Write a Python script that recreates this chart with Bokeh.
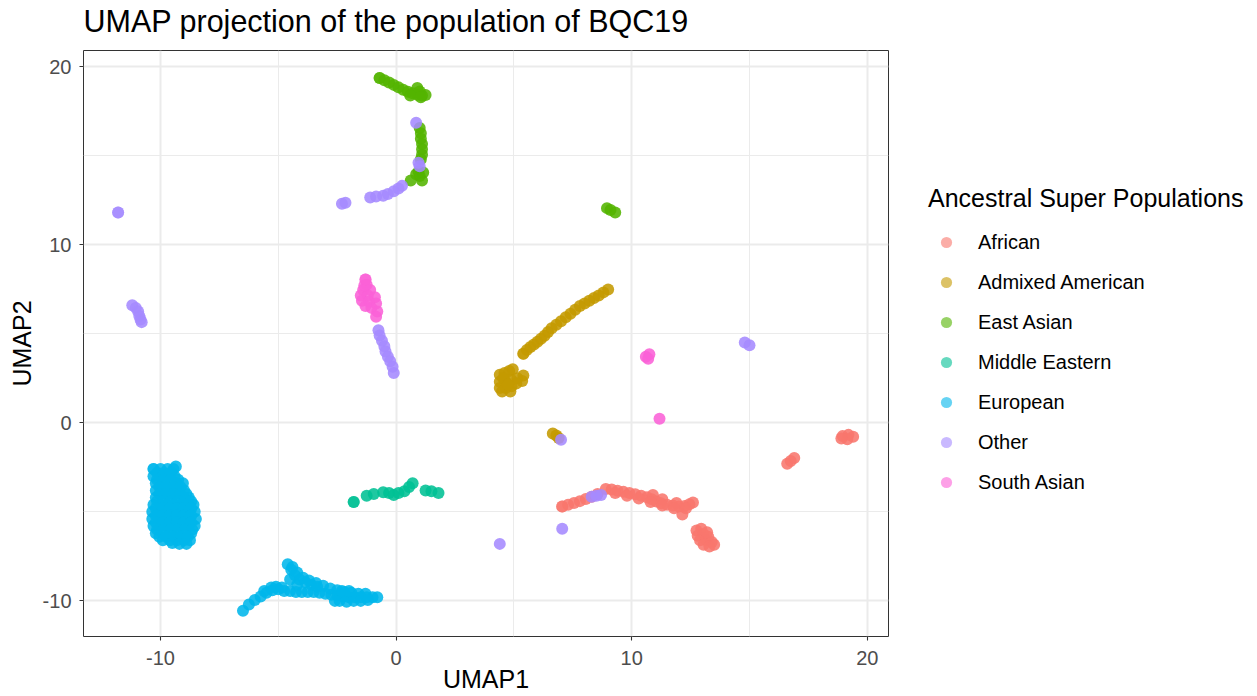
from bokeh.plotting import figure
from bokeh.models import ColumnDataSource, FixedTicker, Legend, LegendItem, Title
from bokeh.embed import file_html
from bokeh.resources import INLINE

FONT = "Liberation Sans"

categories = ["African", "Admixed American", "East Asian", "Middle Eastern",
              "European", "Other", "South Asian"]
colors = ["#F8766D", "#C49A00", "#53B400", "#00C094", "#00B6EB", "#A58AFF", "#FB61D7"]

x_ticks = [-10, 0, 10, 20]
y_ticks = [-10, 0, 10, 20]
minor_ticks = [-15, -5, 5, 15]
tick_labels = {-10: "-10", 0: "0", 10: "10", 20: "20"}

african = [
    (7.05, -4.7), (7.3, -4.6), (7.55, -4.5), (7.8, -4.4), (8.05, -4.28), (8.3, -4.15), (8.55, -4.0),
    (8.9, -3.72), (9.15, -3.75), (9.4, -3.82), (9.65, -3.88), (9.9, -3.95), (10.15, -4.02),
    (10.4, -4.1), (10.65, -4.18), (10.85, -4.3), (11.05, -4.42), (11.25, -4.52), (11.5, -4.6),
    (11.75, -4.65), (12.0, -4.7), (12.25, -4.68), (12.45, -4.58), (12.6, -4.48),
    (10.9, -4.05), (11.3, -4.3), (11.9, -4.5), (12.15, -5.15),
    (9.3, -3.95), (9.8, -4.1), (10.3, -4.25), (10.8, -4.45), (11.3, -4.65), (11.8, -4.8), (12.3, -4.8),
    (12.75, -6.05), (12.95, -5.95), (12.8, -6.35), (13.05, -6.25), (13.25, -6.4), (12.9, -6.6),
    (13.15, -6.6), (13.4, -6.7), (13.05, -6.85), (13.3, -6.95), (13.5, -6.85), (13.2, -6.15),
    (16.6, -2.3), (16.75, -2.15), (16.9, -1.98),
    (18.95, -0.75), (19.2, -0.68), (19.4, -0.78), (19.15, -0.92), (18.9, -0.88),
]

admixed_american = [
    (5.4, 3.88), (5.55, 4.08), (5.7, 4.25), (5.85, 4.4), (6.0, 4.55), (6.15, 4.72), (6.3, 4.88),
    (6.45, 5.1), (6.6, 5.3), (6.8, 5.5), (7.0, 5.7), (7.2, 5.92), (7.4, 6.12), (7.6, 6.35),
    (7.8, 6.55), (8.0, 6.7), (8.2, 6.85), (8.4, 7.0), (8.6, 7.15), (8.8, 7.32), (9.0, 7.48),
    (4.4, 2.7), (4.6, 2.8), (4.8, 2.9), (4.95, 3.0), (4.4, 2.3), (4.65, 2.3), (4.9, 2.4),
    (5.15, 2.5), (5.4, 2.65), (5.35, 2.35), (4.4, 1.95), (4.65, 1.95), (4.9, 2.05),
    (5.1, 2.2), (4.5, 1.75), (4.85, 1.75), (4.55, 2.5), (4.75, 2.15),
    (6.65, -0.6), (6.8, -0.72), (6.9, -0.85),
]

east_asian = [
    (-0.7, 19.35), (-0.5, 19.23), (-0.3, 19.1), (-0.1, 18.97), (0.1, 18.83), (0.3, 18.7),
    (0.5, 18.58), (0.7, 18.5), (0.9, 18.42), (1.1, 18.37), (1.25, 18.4), (0.9, 18.8),
    (1.0, 18.6), (0.6, 18.38), (1.05, 18.28),
    (1.0, 16.55), (1.05, 16.25), (1.05, 15.95), (1.1, 15.65), (1.1, 15.35), (1.1, 15.05),
    (1.05, 14.8), (0.95, 14.1), (1.0, 13.85), (1.1, 13.6), (0.85, 13.95), (1.15, 14.05),
    (0.62, 13.6),
    (8.95, 12.05), (9.1, 11.95), (9.3, 11.8),
]

middle_eastern = [
    (-1.8, -4.45), (-1.25, -4.1), (-0.95, -4.0), (-0.55, -3.9), (-0.3, -3.95), (-0.1, -4.05),
    (0.1, -3.95), (0.35, -3.85), (0.55, -3.6), (0.7, -3.4), (1.25, -3.8), (1.5, -3.85),
    (1.8, -3.95),
]

european = [
    (-10.3, -2.6), (-10.0, -2.6), (-9.7, -2.6), (-9.45, -2.6), (-9.35, -2.45),
    (-10.3, -3.0), (-10.0, -3.0), (-9.7, -3.0), (-9.4, -3.0),
    (-10.2, -3.4), (-9.9, -3.4), (-9.6, -3.4), (-9.3, -3.4), (-9.05, -3.4),
    (-10.2, -3.8), (-9.9, -3.8), (-9.6, -3.8), (-9.3, -3.8), (-9.0, -3.8),
    (-10.2, -4.2), (-9.9, -4.2), (-9.6, -4.2), (-9.3, -4.2), (-9.0, -4.2), (-8.8, -4.2),
    (-10.3, -4.6), (-10.0, -4.6), (-9.7, -4.6), (-9.4, -4.6), (-9.1, -4.6), (-8.8, -4.6), (-8.6, -4.6),
    (-10.35, -5.0), (-10.05, -5.0), (-9.75, -5.0), (-9.45, -5.0), (-9.15, -5.0), (-8.85, -5.0), (-8.55, -5.0),
    (-10.35, -5.4), (-10.05, -5.4), (-9.75, -5.4), (-9.45, -5.4), (-9.15, -5.4), (-8.85, -5.4), (-8.5, -5.4),
    (-10.3, -5.8), (-10.0, -5.8), (-9.7, -5.8), (-9.4, -5.8), (-9.1, -5.8), (-8.8, -5.8), (-8.55, -5.8),
    (-10.2, -6.2), (-9.9, -6.2), (-9.6, -6.2), (-9.3, -6.2), (-9.0, -6.2), (-8.7, -6.2),
    (-9.9, -6.6), (-9.6, -6.6), (-9.3, -6.6), (-9.0, -6.6), (-8.75, -6.6),
    (-10.15, -2.8), (-9.85, -2.8), (-9.55, -2.8),
    (-10.15, -3.2), (-9.85, -3.2), (-9.55, -3.2), (-9.25, -3.2),
    (-10.05, -3.6), (-9.75, -3.6), (-9.45, -3.6), (-9.15, -3.6),
    (-10.05, -4.0), (-9.75, -4.0), (-9.45, -4.0), (-9.15, -4.0), (-8.9, -4.0),
    (-10.15, -4.4), (-9.85, -4.4), (-9.55, -4.4), (-9.25, -4.4), (-8.95, -4.4), (-8.7, -4.4),
    (-10.2, -4.8), (-9.9, -4.8), (-9.6, -4.8), (-9.3, -4.8), (-9.0, -4.8), (-8.7, -4.8),
    (-10.2, -5.2), (-9.9, -5.2), (-9.6, -5.2), (-9.3, -5.2), (-9.0, -5.2), (-8.7, -5.2),
    (-10.2, -5.6), (-9.9, -5.6), (-9.6, -5.6), (-9.3, -5.6), (-9.0, -5.6), (-8.7, -5.6),
    (-10.15, -6.0), (-9.85, -6.0), (-9.55, -6.0), (-9.25, -6.0), (-8.95, -6.0), (-8.65, -6.0),
    (-10.05, -6.4), (-9.75, -6.4), (-9.45, -6.4), (-9.15, -6.4), (-8.85, -6.4),
    (-9.5, -6.75), (-9.2, -6.8), (-8.9, -6.8),
    (-6.5, -10.55), (-6.25, -10.2), (-6.0, -9.95), (-5.75, -9.75), (-5.5, -9.55), (-5.25, -9.4),
    (-5.0, -9.35), (-4.75, -9.45), (-4.5, -9.45), (-4.25, -9.5), (-4.0, -9.5), (-3.75, -9.5),
    (-3.5, -9.5), (-3.25, -9.55), (-3.0, -9.6), (-2.75, -9.65), (-2.5, -9.7), (-2.25, -9.75),
    (-2.0, -9.8), (-1.75, -9.8), (-1.5, -9.8), (-1.25, -9.8), (-1.0, -9.8), (-0.8, -9.8),
    (-5.6, -9.45), (-5.3, -9.25), (-5.1, -9.2), (-4.85, -9.25),
    (-4.6, -7.95), (-4.45, -8.25), (-4.3, -8.55), (-4.1, -8.8), (-3.85, -8.95), (-3.6, -9.1),
    (-3.35, -9.2), (-4.5, -8.8), (-4.2, -9.1),
    (-4.4, -8.1), (-4.2, -8.4), (-3.95, -8.7), (-3.7, -8.85), (-3.4, -9.0), (-3.1, -9.15),
    (-2.8, -9.3), (-2.5, -9.4), (-2.2, -9.5), (-1.9, -9.55), (-1.6, -9.6), (-1.3, -9.6),
    (-2.4, -10.0), (-2.1, -10.05), (-1.8, -10.0), (-2.3, -9.45), (-2.0, -9.45),
    (-2.6, -10.0), (-1.5, -10.0), (-1.2, -9.95),
]

other = [
    (-11.8, 11.8),
    (-11.2, 6.6), (-11.05, 6.45), (-10.95, 6.25), (-10.9, 6.0), (-10.85, 5.8), (-10.8, 5.65),
    (0.85, 16.85), (0.95, 14.6), (1.0, 14.4),
    (-2.3, 12.3), (-2.15, 12.35), (-1.1, 12.65), (-0.85, 12.7), (-0.55, 12.75), (-0.35, 12.85),
    (-0.1, 13.0), (0.1, 13.15), (0.25, 13.3),
    (-0.75, 5.2), (-0.7, 4.9), (-0.6, 4.6), (-0.5, 4.3), (-0.45, 4.0), (-0.35, 3.7),
    (-0.25, 3.45), (-0.15, 3.15), (-0.1, 2.8),
    (7.0, -0.95),
    (8.3, -4.15), (8.5, -4.1), (8.7, -4.05),
    (14.8, 4.5), (15.0, 4.35),
    (4.4, -6.8), (7.05, -5.95),
]

south_asian = [
    (-1.3, 8.05), (-1.25, 7.75), (-1.4, 7.45), (-1.1, 7.45), (-1.5, 7.15), (-1.2, 7.15),
    (-0.9, 7.05), (-1.45, 6.85), (-1.15, 6.8), (-0.85, 6.7), (-1.05, 6.45), (-0.8, 6.25),
    (-0.85, 5.95), (-1.35, 7.7), (-1.3, 6.55),
    (10.6, 3.7), (10.75, 3.85), (10.7, 3.6),
    (11.18, 0.23),
]

groups = [african, admixed_american, east_asian, middle_eastern, european, other, south_asian]

p = figure(frame_width=805, frame_height=586,
           x_range=(-13.27, 20.9), y_range=(-12.0, 20.9),
           min_border_left=83, min_border_right=369, min_border_top=50, min_border_bottom=40,
           output_backend="svg", toolbar_location=None,
           background_fill_color="white", border_fill_color="white")

p.title.text = "UMAP projection of the population of BQC19"
p.title.text_font = FONT
p.title.text_font_size = "30.5px"
p.title.text_font_style = "normal"
p.title.text_color = "black"
p.title.align = "left"
p.title.offset = 0
p.title.standoff = 2

# thin spacer between the frame and the title
spacer = Title(text=" ", text_font_size="1px", standoff=9)
p.add_layout(spacer, "above")

p.outline_line_color = "#333333"
p.outline_line_width = 1

for ax, ticks in ((p.xaxis, x_ticks), (p.yaxis, y_ticks)):
    ax.ticker = FixedTicker(ticks=ticks, minor_ticks=minor_ticks)
    ax.major_label_overrides = tick_labels
    ax.major_label_text_font = FONT
    ax.major_label_text_font_size = "20px"
    ax.major_label_text_color = "#4D4D4D"
    ax.major_tick_in = 0
    ax.major_tick_out = 4
    ax.major_tick_line_color = "#333333"
    ax.major_tick_line_width = 1.1
    ax.minor_tick_in = 0
    ax.minor_tick_out = 0
    ax.axis_line_color = None
    ax.axis_label_text_font = FONT
    ax.axis_label_text_font_size = "25px"
    ax.axis_label_text_font_style = "normal"
    ax.axis_label_text_color = "black"

p.xaxis.axis_label = "UMAP1"
p.yaxis.axis_label = "UMAP2"
p.xaxis.major_label_standoff = 10
p.xaxis.axis_label_standoff = -3
p.yaxis.major_label_standoff = 8
p.yaxis.axis_label_standoff = 4

for g in (p.xgrid, p.ygrid):
    g.grid_line_color = "#EBEBEB"
    g.grid_line_width = 2
    g.minor_grid_line_color = "#EBEBEB"
    g.minor_grid_line_width = 1

for name, col, pts in zip(categories, colors, groups):
    src = ColumnDataSource(dict(x=[q[0] for q in pts], y=[q[1] for q in pts]))
    p.scatter("x", "y", source=src, size=12, fill_color=col, line_color=col,
              fill_alpha=0.88, line_alpha=0.88, line_width=0)

# legend keys: one lighter copy of each group's first sample (hidden inside its cluster)
items = []
for name, col, pts in zip(categories, colors, groups):
    key_src = ColumnDataSource(dict(x=[pts[0][0]], y=[pts[0][1]]))
    r = p.scatter("x", "y", source=key_src, size=12, fill_color=col, line_color=col,
                  fill_alpha=0.6, line_alpha=0.6, line_width=0)
    items.append(LegendItem(label=name, renderers=[r]))

legend = Legend(items=items, location=(40, 140))
legend.title = "Ancestral Super Populations"
legend.title_text_font = FONT
legend.title_text_font_size = "25px"
legend.title_text_font_style = "normal"
legend.title_text_color = "black"
legend.title_standoff = 15
legend.label_text_font = FONT
legend.label_text_font_size = "20px"
legend.label_text_color = "black"
legend.glyph_width = 36
legend.glyph_height = 28
legend.label_height = 28
legend.label_standoff = 14
legend.spacing = 12
legend.padding = 0
legend.margin = 0
legend.border_line_color = None
legend.background_fill_alpha = 0
p.add_layout(legend, "right")

open("out.html", "w").write(file_html(p, INLINE))
